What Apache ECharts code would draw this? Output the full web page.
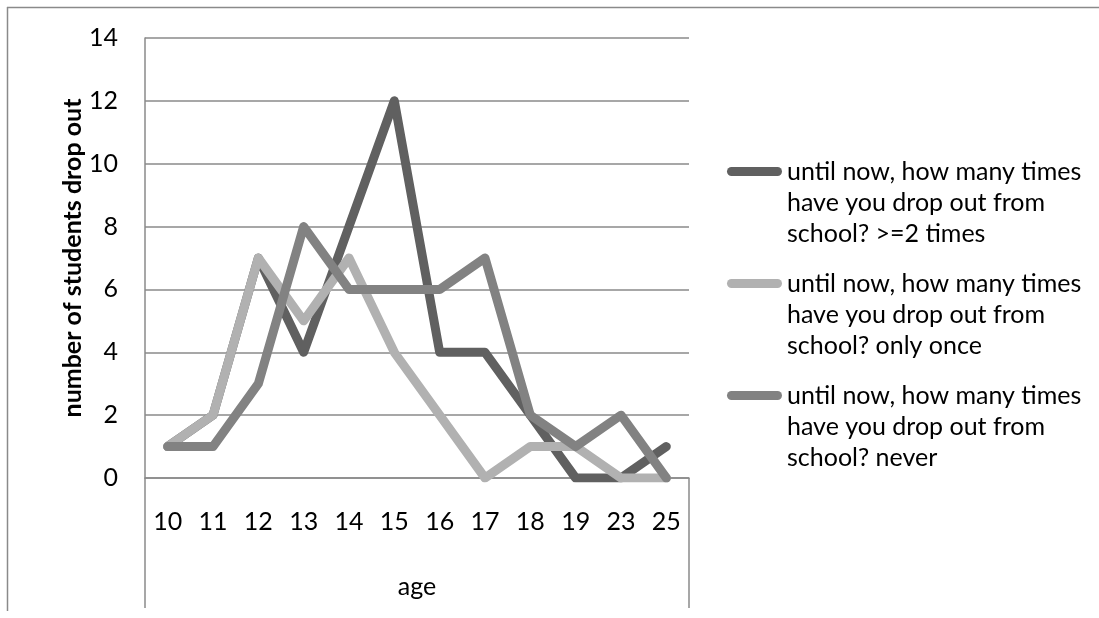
<!DOCTYPE html>
<html>
<head>
<meta charset="utf-8">
<style>
  html, body { margin: 0; padding: 0; background: #ffffff; }
  #chart { width: 1099px; height: 618px; }
</style>
<script src="https://cdn.jsdelivr.net/npm/echarts@6/dist/echarts.min.js"></script>
</head>
<body>
<div id="chart"></div>
<script>
// Ages on the category axis
const ages = ['10', '11', '12', '13', '14', '15', '16', '17', '18', '19', '23', '25'];

// Number of students per age, by how often they dropped out
const twoOrMore = [1, 2, 7, 4, 8, 12, 4, 4, 2, 0, 0, 1];
const onlyOnce  = [1, 2, 7, 5, 7, 4, 2, 0, 1, 1, 0, 0];
const never     = [1, 1, 3, 8, 6, 6, 6, 7, 2, 1, 2, 0];

// Series names, broken into the three lines shown in the legend
const seriesNames = [
  'until now, how many times\nhave you drop out from\nschool? >=2 times',
  'until now, how many times\nhave you drop out from\nschool? only once',
  'until now, how many times\nhave you drop out from\nschool? never'
];
const seriesColors = ['#606060', '#b1b1b1', '#828282'];

const yTicks = { min: 0, max: 14, interval: 2 };

const FONT = 'Lato, "Open Sans", sans-serif';
const GRID = { left: 145, right: 410, top: 38, bottom: 140 };
const W = 1099, H = 618;
const plotLeft = GRID.left, plotRight = W - GRID.right, plotBottom = H - GRID.bottom;

const chart = echarts.init(document.getElementById('chart'), null, { renderer: 'canvas' });

function lineSeries(name, data, color) {
  return {
    name: name,
    type: 'line',
    data: data,
    symbol: 'none',
    smooth: false,
    lineStyle: { color: color, width: 9, cap: 'round', join: 'round' },
    itemStyle: { color: color },
    emphasis: { disabled: true },
    animation: false
  };
}

chart.setOption({
  backgroundColor: '#ffffff',
  animation: false,
  grid: GRID,
  legend: {
    orient: 'vertical',
    left: 727,
    top: 94,
    padding: 0,
    itemGap: -43,
    itemWidth: 55,
    itemHeight: 9,
    icon: 'path://M4.5,0 H50.5 A4.5,4.5 0 0 1 50.5,9 H4.5 A4.5,4.5 0 0 1 4.5,0 Z',
    selectedMode: false,
    // two leading blank lines put the first text line level with the key
    formatter: name => '\n\n' + name,
    textStyle: {
      fontFamily: FONT,
      fontSize: 25,
      color: '#000000',
      lineHeight: 31
    },
    data: seriesNames.map((n, i) => ({ name: n, itemStyle: { color: seriesColors[i] } }))
  },
  xAxis: {
    type: 'category',
    data: ages,
    boundaryGap: true,
    name: 'age',
    nameLocation: 'middle',
    nameGap: 96,
    nameTextStyle: { fontFamily: FONT, fontSize: 25, color: '#000000' },
    axisLine: { show: true, lineStyle: { color: '#8a8a8a', width: 1.5 } },
    axisTick: { show: false },
    axisLabel: { fontFamily: FONT, fontSize: 25, color: '#000000', margin: 31 },
    splitLine: { show: false }
  },
  yAxis: {
    type: 'value',
    min: yTicks.min,
    max: yTicks.max,
    interval: yTicks.interval,
    name: 'number of students drop out',
    nameLocation: 'middle',
    nameGap: 60,
    nameTextStyle: { fontFamily: FONT, fontSize: 25, fontWeight: 'bold', color: '#000000' },
    axisLine: { show: true, lineStyle: { color: '#8a8a8a', width: 1.5 } },
    axisTick: { show: false },
    axisLabel: { fontFamily: FONT, fontSize: 25, color: '#000000', margin: 27 },
    splitLine: { show: true, lineStyle: { color: '#8a8a8a', width: 1.5 } }
  },
  graphic: [
    // chart frame (top and left edges)
    { type: 'line', silent: true, shape: { x1: 7, y1: 7.5, x2: W, y2: 7.5 }, style: { stroke: '#8a8a8a', lineWidth: 1.5 } },
    { type: 'line', silent: true, shape: { x1: 7.5, y1: 7, x2: 7.5, y2: 611 }, style: { stroke: '#8a8a8a', lineWidth: 1.5 } },
    // category axis box sides
    { type: 'line', silent: true, shape: { x1: plotLeft, y1: plotBottom, x2: plotLeft, y2: 608 }, style: { stroke: '#8a8a8a', lineWidth: 1.5 } },
    { type: 'line', silent: true, shape: { x1: plotRight, y1: plotBottom, x2: plotRight, y2: 608 }, style: { stroke: '#8a8a8a', lineWidth: 1.5 } }
  ],
  series: [
    lineSeries(seriesNames[0], twoOrMore, seriesColors[0]),
    lineSeries(seriesNames[1], onlyOnce, seriesColors[1]),
    lineSeries(seriesNames[2], never, seriesColors[2])
  ]
});
</script>
</body>
</html>
